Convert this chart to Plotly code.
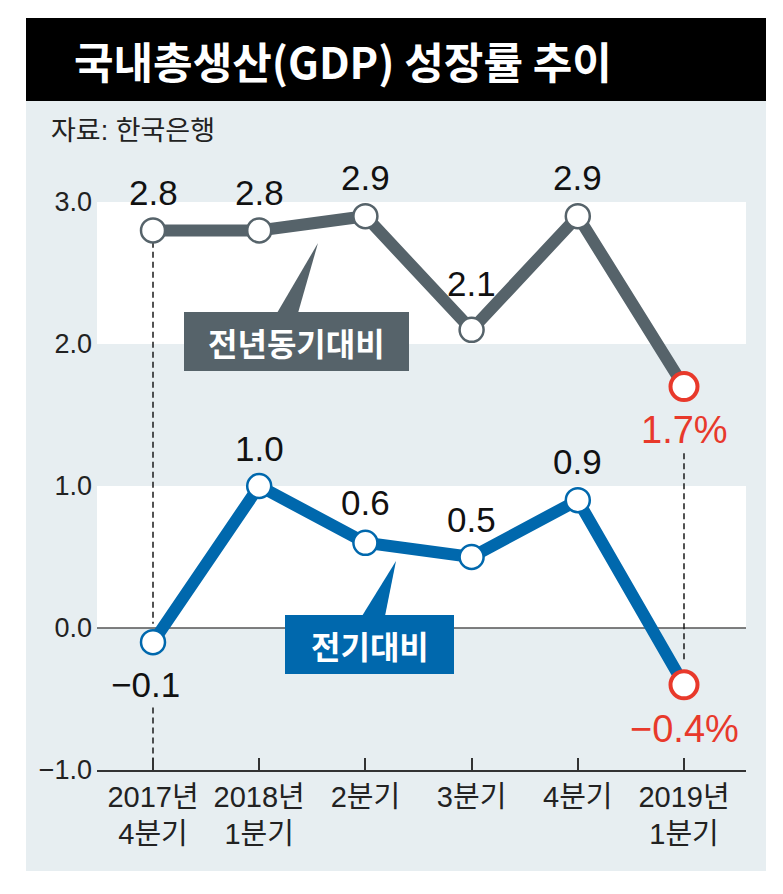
import plotly.graph_objects as go

# ---- data ----
categories = ["2017년<br>4분기", "2018년<br>1분기", "2분기", "3분기", "4분기", "2019년<br>1분기"]
yoy = [2.8, 2.8, 2.9, 2.1, 2.9, 1.7]          # 전년동기대비
qoq = [-0.1, 1.0, 0.6, 0.5, 0.9, -0.4]        # 전기대비
y_ticks = [-1, 0, 1, 2, 3]
y_ticktext = ["−1.0", "0.0", "1.0", "2.0", "3.0"]
title_text = "국내총생산(GDP) 성장률 추이"
source_text = "자료: 한국은행"
yoy_name = "전년동기대비"
qoq_name = "전기대비"

# ---- style ----
GRAY = "#56636a"
BLUE = "#0068ad"
RED = "#e8392b"
PANEL = "#e7eef1"
TXT_FONT = "Liberation Sans, Arial, Noto Sans CJK KR"
KR_FONT = "Noto Sans CJK KR"

W, H = 783, 894
L, R, T, B = 97, 746, 131, 770
PW, PH = R - L, B - T


def px(x):
    return (x - L) / PW


def py(y):
    return (B - y) / PH


x_idx = list(range(len(categories)))
n = len(categories)

fig = go.Figure()

# lines first
for vals, color in [(yoy, GRAY), (qoq, BLUE)]:
    fig.add_trace(go.Scatter(
        x=x_idx, y=vals, mode="lines",
        line=dict(color=color, width=12),
        hoverinfo="skip", showlegend=False,
    ))
# markers on top
for vals, color in [(yoy, GRAY), (qoq, BLUE)]:
    sizes = [24] * (n - 1) + [27]
    lcols = [color] * (n - 1) + [RED]
    lw = [2.5] * (n - 1) + [4]
    fig.add_trace(go.Scatter(
        x=x_idx, y=vals, mode="markers",
        marker=dict(size=sizes, color="white", opacity=1,
                    line=dict(color=lcols, width=lw)),
        hoverinfo="skip", showlegend=False,
    ))

shapes = []
# panel + title band
shapes.append(dict(type="rect", xref="paper", yref="paper", x0=px(26), x1=px(766), y0=py(871), y1=py(101),
                   fillcolor=PANEL, line=dict(width=0), layer="below"))
shapes.append(dict(type="rect", xref="paper", yref="paper", x0=px(26), x1=px(766), y0=py(101), y1=py(18),
                   fillcolor="black", line=dict(width=0), layer="below"))
# white bands
for lo, hi in [(2, 3), (0, 1)]:
    shapes.append(dict(type="rect", xref="paper", yref="y", x0=0, x1=1, y0=lo, y1=hi,
                       fillcolor="white", line=dict(width=0), layer="below"))
# zero line
shapes.append(dict(type="line", xref="paper", yref="y", x0=0, x1=1, y0=0, y1=0,
                   line=dict(color="#555", width=1.5), layer="below"))
# dashed guides
for xv, y0, y1 in [(0, 2.72, 0.03), (0, -0.56, -1.0), (5, 1.23, -0.24)]:
    shapes.append(dict(type="line", xref="x", yref="y", x0=xv, x1=xv, y0=y0, y1=y1,
                       line=dict(color="#1a1a1a", width=1.5, dash="6px,4px"), layer="below"))
# callouts
shapes.append(dict(type="rect", xref="paper", yref="paper", x0=px(184), x1=px(409), y0=py(371), y1=py(312),
                   fillcolor=GRAY, line=dict(width=0), layer="above"))
shapes.append(dict(type="path", xref="paper", yref="paper",
                   path=f"M{px(277)},{py(313)} L{px(318)},{py(243)} L{px(298)},{py(313)} Z",
                   fillcolor=GRAY, line=dict(width=0), layer="above"))
shapes.append(dict(type="rect", xref="paper", yref="paper", x0=px(285), x1=px(454), y0=py(674), y1=py(615),
                   fillcolor=BLUE, line=dict(width=0), layer="above"))
shapes.append(dict(type="path", xref="paper", yref="paper",
                   path=f"M{px(362)},{py(616)} L{px(396)},{py(561)} L{px(385)},{py(616)} Z",
                   fillcolor=BLUE, line=dict(width=0), layer="above"))

ann = []
ann.append(dict(xref="paper", yref="paper", x=px(72), y=py(60), xanchor="left", yanchor="middle",
                text=f"<b>{title_text}</b>", showarrow=False,
                font=dict(family=KR_FONT, size=43, color="white")))
ann.append(dict(xref="paper", yref="paper", x=px(49), y=py(131), xanchor="left", yanchor="middle",
                text=source_text, showarrow=False,
                font=dict(family=TXT_FONT, size=27, color="#222")))
ann.append(dict(xref="paper", yref="paper", x=px(296.5), y=py(342), xanchor="center", yanchor="middle",
                text=f"<b>{yoy_name}</b>", showarrow=False,
                font=dict(family=KR_FONT, size=32, color="white")))
ann.append(dict(xref="paper", yref="paper", x=px(369.5), y=py(645), xanchor="center", yanchor="middle",
                text=f"<b>{qoq_name}</b>", showarrow=False,
                font=dict(family=KR_FONT, size=32, color="white")))


def fmt(v):
    s = f"{abs(v):.1f}"
    return ("−" + s) if v < 0 else s


# label offsets in px (positive = above the point)
yoy_shift = [38, 38, 39, 46, 39, -43]
qoq_shift = [-42, 38, 40, 38, 39, -44]
for vals, shifts in [(yoy, yoy_shift), (qoq, qoq_shift)]:
    for i, v in enumerate(vals):
        last = i == n - 1
        txt = fmt(v) + ("%" if last else "")
        xs = -8 if (v < 0 and not last) else 0
        ann.append(dict(x=i, y=v, xref="x", yref="y", text=txt, showarrow=False,
                        yshift=shifts[i], xshift=xs, xanchor="center", yanchor="middle",
                        font=dict(family=TXT_FONT, size=38 if last else 35,
                                  color=RED if last else "#111")))

fig.update_layout(
    width=W, height=H,
    margin=dict(l=L, r=W - R, t=T, b=H - B, pad=0),
    paper_bgcolor="white", plot_bgcolor="rgba(0,0,0,0)",
    shapes=shapes, annotations=ann, showlegend=False,
    xaxis=dict(range=[-0.5273, 5.5838], tickvals=x_idx, ticktext=categories,
               showgrid=False, zeroline=False, showline=True, linecolor="#333", linewidth=1.5,
               ticks="inside", ticklen=12, tickwidth=1.5, tickcolor="#333",
               tickfont=dict(family=TXT_FONT, size=29, color="#222"), ticklabelstandoff=0),
    yaxis=dict(range=[-1, 3.5], tickvals=y_ticks, ticktext=y_ticktext,
               showgrid=False, zeroline=False, showline=False, ticks="",
               tickfont=dict(family=TXT_FONT, size=27, color="#222"), ticklabelstandoff=4),
)

fig.write_html("out.html", config={"displayModeBar": False},
               post_script="document.body.style.margin='0';")
